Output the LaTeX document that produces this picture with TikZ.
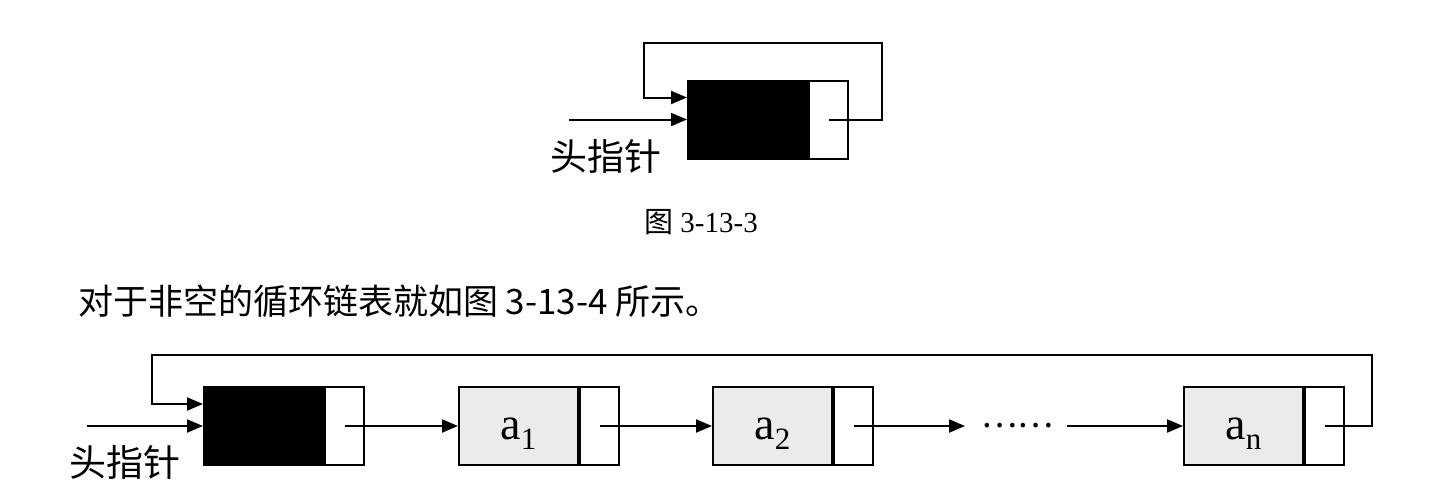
\documentclass[tikz,border=0pt]{standalone}
\usepackage{fontspec}
\setmainfont{Liberation Serif}
\newfontfamily\cjk{Noto Sans CJK SC}
\usetikzlibrary{positioning,arrows.meta}
\newcommand\lsub[1]{\raisebox{-0.22em}{\fontsize{31}{31}\selectfont #1}}

\begin{document}
\begin{tikzpicture}[x=1pt,y=-1pt,line width=2pt,
    >={Triangle[length=16pt,width=13pt]},
    datafield/.style={draw,fill=black!8,minimum width=119pt,minimum height=78pt,
      inner sep=0pt,text height=30pt,text depth=4pt,font=\fontsize{46}{48}\selectfont},
    headfield/.style={datafield,fill=black},
    ptrfield/.style={draw,fill=white,minimum width=39pt,minimum height=78pt,inner sep=0pt},
    label/.style={font=\cjk\fontsize{37}{40}\selectfont,inner sep=0pt}]
  \useasboundingbox (0,0) rectangle (1447,482);

  % empty circular list
  \node[headfield] (H0) at (747.5,119.5) {};
  \node[ptrfield,right=0pt of H0] (H0p) {};
  \coordinate (P0) at (569,119.5);
  \coordinate (T0) at (882,43);
  \coordinate (T1) at (644,43);

  \draw[->] (P0) -- (H0.west);
  \draw[->] (H0p.center) -| (T0) -- (T1) |- ([yshift=22pt]H0.west);
  \node[label] (L0) at (606,156) {头指针};
  \node[font=\fontsize{29}{31}\selectfont] (C0) at (701,222) {{\cjk 图} 3-13-3};

  \node[anchor=west,font=\cjk\fontsize{35}{37}\selectfont,inner sep=0pt] (S)
      at (77,301) {对于非空的循环链表就如图 3-13-4 所示。};

  % non-empty circular list
  \node[headfield] (H) at (263.5,426) {};
  \node[ptrfield,right=0pt of H] (Hp) {};
  \node[datafield] (A1) at (518.5,426) {a\lsub{1}};
  \node[ptrfield,right=0pt of A1] (A1p) {};
  \node[datafield] (A2) at (772.5,426) {a\lsub{2}};
  \node[ptrfield,right=0pt of A2] (A2p) {};
  \node[datafield] (An) at (1243.5,426) {a\lsub{n}};
  \node[ptrfield,right=0pt of An] (Anp) {};
  \node[font=\cjk\fontsize{34}{36}\selectfont,inner sep=0pt] (D) at (1017,426) {……};

  \coordinate (P1) at (87,426);
  \coordinate (E1) at (965,426);
  \coordinate (E2) at (1067,426);
  \coordinate (T2) at (1372,355);
  \coordinate (T3) at (152,355);

  \draw[->] (P1) -- (H.west);
  \draw[->] (Hp.center) -- (A1.west);
  \draw[->] (A1p.center) -- (A2.west);
  \draw[->] (A2p.center) -- (E1);
  \draw[->] (E2) -- (An.west);
  \draw[->] (Anp.center) -| (T2) -- (T3) |- ([yshift=22pt]H.west);
  \node[label] (L1) at (125,462) {头指针};
\end{tikzpicture}
\end{document}
